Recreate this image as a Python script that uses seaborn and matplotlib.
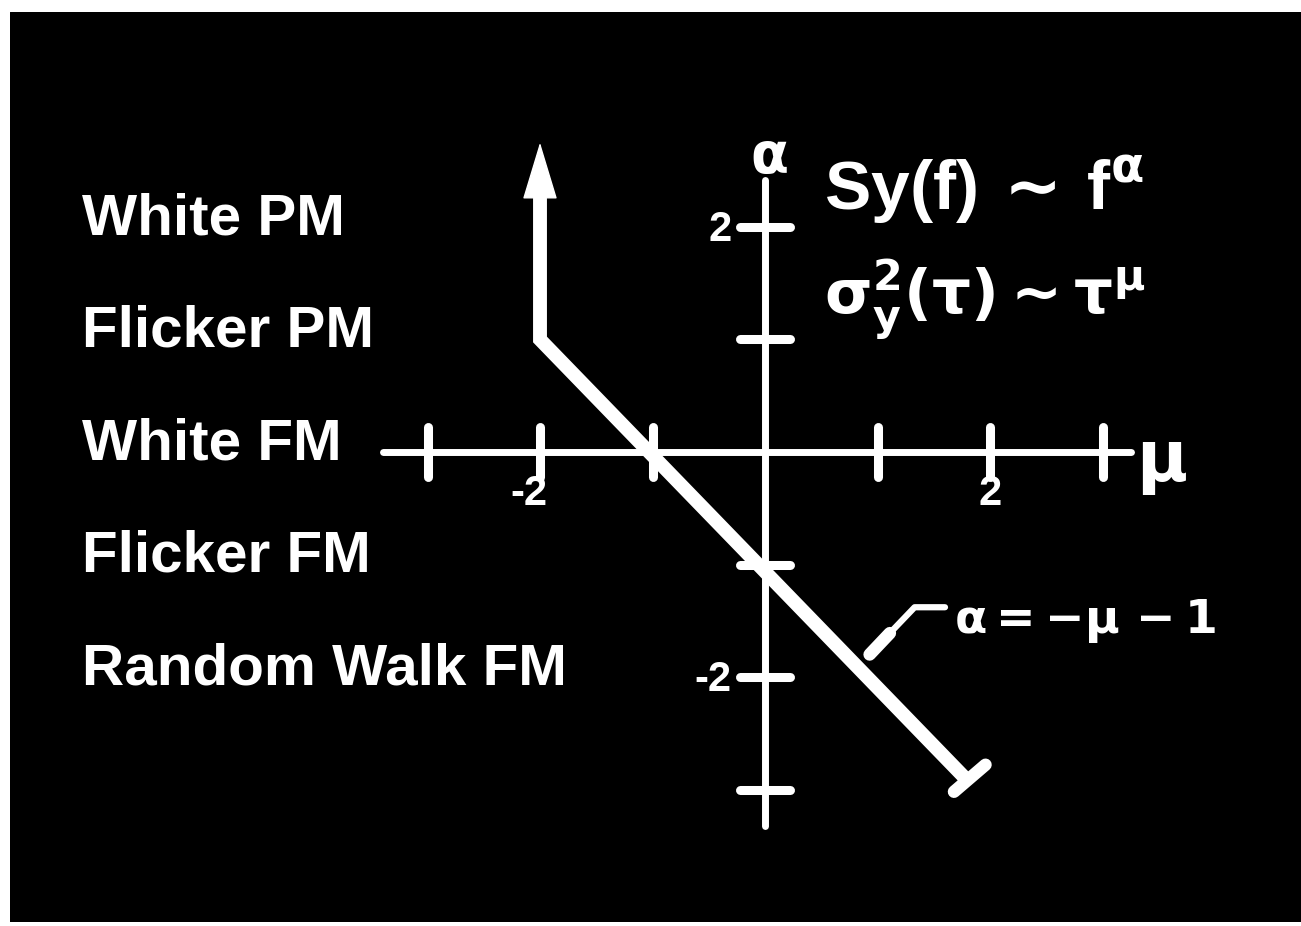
import numpy as np
import pandas as pd
import matplotlib
matplotlib.use("Agg")
import matplotlib.pyplot as plt
from matplotlib.markers import MarkerStyle
import seaborn as sns

# noise types and their alpha exponent
noise_names = ["White PM", "Flicker PM", "White FM", "Flicker FM", "Random Walk FM"]
noise_alpha = [2, 1, 0, -1, -2]

# axis ranges and ticks
mu_axis = [-3.4, 3.25]
alpha_axis = [2.42, -3.32]
mu_ticks = [-3, -2, -1, 1, 2, 3]
alpha_ticks = [2, 1, -1, -2, -3]
mu_ticklabels = {-2: "-2", 2: "2"}
alpha_ticklabels = {2: "2", -2: "-2"}

# the alpha = -mu - 1 relation, with the vertical part at mu = -2
curve_mu = [-2, -2, 1.78]
curve_alpha = [2.3, 1, -2.9]
arrow_tip = 2.75

# leader from the equation label to the line
leader_mu = [1.6, 1.33, 1.11, 0.93]
leader_alpha = [-1.38, -1.38, -1.61, -1.8]

sns.set_theme(style="dark", rc={"axes.facecolor": "black", "figure.facecolor": "white"})
plt.rcParams["font.family"] = ["Liberation Sans", "DejaVu Sans"]
plt.rcParams["mathtext.fontset"] = "dejavusans"
plt.rcParams["mathtext.default"] = "bf"

W, H = 1301, 926
ox, oy, unit = 765, 452, 112.5
left_px, top_px, bottom_px = 10, 12, 922

fig = plt.figure(figsize=(W / 100, H / 100), dpi=100)
ax = fig.add_axes([left_px / W, (H - bottom_px) / H, (W - left_px) / W, (bottom_px - top_px) / H])
ax.set_xlim((left_px - ox) / unit, (W - ox) / unit)
ax.set_ylim((oy - bottom_px) / unit, (oy - top_px) / unit)
ax.set_axis_off()
ax.add_artist(plt.Rectangle((0, 0), 1, 1, transform=ax.transAxes, color="black", zorder=0))

white = "white"

# axes lines
sns.lineplot(x=mu_axis, y=[0, 0], ax=ax, color=white, lw=5, sort=False,
             estimator=None, solid_capstyle="round")
sns.lineplot(x=[0, 0], y=alpha_axis, ax=ax, color=white, lw=5, sort=False,
             estimator=None, solid_capstyle="round")
ax.plot(mu_ticks, [0] * len(mu_ticks), ls="none", color=white,
        marker=MarkerStyle("|", capstyle="round"), markersize=36, mew=6.5)
ax.plot([0] * len(alpha_ticks), alpha_ticks, ls="none", color=white,
        marker=MarkerStyle("_", capstyle="round"), markersize=36, mew=6.5)

for m, lab in mu_ticklabels.items():
    ax.text(m - (0.1 if m < 0 else 0), -0.37, lab, color=white, fontsize=30,
            fontweight="bold", ha="center", va="center")
for a, lab in alpha_ticklabels.items():
    ax.text(-0.3, a - 0.03, lab, color=white, fontsize=30,
            fontweight="bold", ha="right", va="center")

ax.text(0.03, 2.6, r"$\alpha$", color=white, fontsize=40, ha="center", va="center")
ax.text(3.3, -0.12, r"$\mu$", color=white, fontsize=50, ha="left", va="center")

# the relation line with arrow
df = pd.DataFrame({"mu": curve_mu, "alpha": curve_alpha})
sns.lineplot(data=df, x="mu", y="alpha", ax=ax, color=white, lw=10, sort=False,
             estimator=None, solid_capstyle="round", solid_joinstyle="miter")
ax.annotate("", xy=(curve_mu[0], arrow_tip), xytext=(curve_mu[0], curve_alpha[0]),
            arrowprops=dict(arrowstyle="-|>,head_length=38,head_width=11.5",
                            mutation_scale=1, color=white, lw=1,
                            shrinkA=0, shrinkB=0))
end_mu, end_alpha = curve_mu[-1], curve_alpha[-1]
ax.plot([end_mu - 0.1, end_mu + 0.18], [end_alpha - 0.12, end_alpha + 0.12],
        color=white, lw=9, solid_capstyle="round")

# leader + equation
ax.plot(leader_mu, leader_alpha, color=white, lw=4.5, solid_capstyle="round")
ax.plot(leader_mu[2:], leader_alpha[2:], color=white, lw=9, solid_capstyle="round")
ax.text(1.68, -1.5, r"$\alpha = -\mu\, -1$", color=white, fontsize=34,
        ha="left", va="center")

# spectral / allan relations
ax.text(0.52, 2.33, r"Sy(f)$\,\sim\,$f$^{\alpha}$", color=white, fontsize=50,
        fontweight="bold", ha="left", va="center")
ax.text(0.52, 1.36, r"$\sigma_y^2(\tau)\sim\tau^{\mu}$", color=white, fontsize=44,
        ha="left", va="center")

# noise type labels
for name, a in zip(noise_names, noise_alpha):
    ax.text(-6.07, a + 0.07, name, color=white, fontsize=42, fontweight="bold",
            ha="left", va="center")

fig.savefig("out.png", dpi=100, facecolor="white")
